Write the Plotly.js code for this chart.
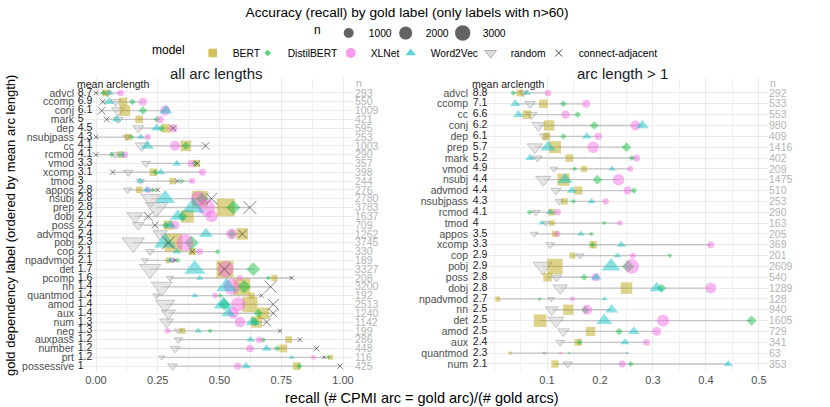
<!DOCTYPE html>
<html><head><meta charset="utf-8">
<script src="https://cdn.plot.ly/plotly-3.0.1.min.js"></script>
<style>html,body{margin:0;padding:0;background:#fff}#chart{width:830px;height:407px}</style>
</head><body><div id="chart"></div>
<script>
// ---------- data: all arc lengths ----------
const labelsAll = ['advcl','ccomp','conj','mark','dep','nsubjpass','cc','rcmod','vmod','xcomp','tmod','appos','nsubj','prep','dobj','poss','advmod','pobj','cop','npadvmod','det','pcomp','nn','quantmod','amod','aux','num','neg','auxpass','number','prt','possessive'];
const arclenAll = ['8.7','6.9','6.1','5','4.5','4.3','4.1','4.1','3.3','3.1','3','2.8','2.8','2.8','2.4','2.4','2.4','2.3','2.1','2.1','1.7','1.6','1.4','1.4','1.4','1.4','1.3','1.3','1.2','1.2','1.2','1'];
const nAll = [293,550,1009,421,595,253,1003,290,357,398,244,276,2780,3783,1637,709,1262,3745,330,189,3327,208,3200,192,2513,1240,1142,199,286,448,116,425];
const bertAll = [0.04,0.11,0.117,0.175,0.283,0.13,0.364,0.10,0.407,0.232,0.31,0.175,0.42,0.525,0.37,0.293,0.592,0.313,0.39,0.293,0.522,0.722,0.59,0.63,0.623,0.677,0.65,0.35,0.78,0.758,0.95,0.812];
const distilAll = [0.03,0.147,0.19,0.245,0.265,0.145,0.364,0.063,0.40,0.24,0.347,0.23,0.43,0.556,0.35,0.283,0.55,0.387,0.493,0.333,0.637,0.698,0.60,0.502,0.52,0.657,0.644,0.462,0.677,0.734,0.94,0.823];
const xlnetAll = [0.10,0.19,0.28,0.26,0.313,0.21,0.32,0.117,0.385,0.432,0.389,0.212,0.414,0.448,0.468,0.32,0.549,0.36,0.42,0.31,0.525,0.583,0.55,0.482,0.576,0.556,0.583,0.289,0.661,0.623,0.88,0.574];
const w2vAll = [0.054,0.053,0.283,0.084,0.245,0.182,0.208,0.104,0.327,0.262,0.178,0.205,0.28,0.394,0.332,0.30,0.445,0.28,0.327,0.30,0.40,0.42,0.529,0.40,0.515,0.536,0.634,0.414,0.626,0.691,0.792,0.607];
const randomAll = [0.045,0.08,0.09,0.09,0.171,0.125,0.185,0.077,0.202,0.131,0.18,0.128,0.222,0.245,0.158,0.171,0.26,0.151,0.219,0.198,0.219,0.30,0.266,0.245,0.28,0.293,0.286,0.333,0.333,0.32,0.266,0.31];
const adjAll = [0.0,0.027,0.023,0.043,0.313,0.0,0.444,0.0,0.41,0.067,0.33,0.25,0.468,0.623,0.212,0.239,0.593,0.293,0.39,0.32,0.52,0.792,0.707,0.67,0.718,0.718,0.691,0.745,0.826,0.893,0.923,0.988];

// ---------- data: arc length > 1 ----------
const labelsGt1 = ['advcl','ccomp','cc','conj','dep','prep','mark','vmod','nsubj','advmod','nsubjpass','rcmod','tmod','appos','xcomp','cop','pobj','poss','dobj','npadvmod','nn','det','amod','aux','quantmod','num'];
const arclenGt1 = ['8.8','7.1','6.6','6.2','6.1','5.7','5.2','4.9','4.4','4.4','4.3','4.1','4','3.5','3.3','2.9','2.9','2.8','2.8','2.7','2.5','2.5','2.5','2.4','2.3','2.1'];
const nGt1 = [292,533,553,980,409,1416,402,209,1475,510,253,290,163,205,369,201,2609,540,1289,128,940,1605,729,341,63,353];
const bertGt1 = [0.049,0.093,0.062,0.104,0.099,0.115,0.142,0.17,0.131,0.159,0.133,0.109,0.109,0.115,0.187,0.148,0.115,0.101,0.25,0.007,0.14,0.087,0.182,0.159,0.03,0.115];
const distilGt1 = [0.036,0.131,0.158,0.189,0.131,0.25,0.26,0.152,0.195,0.264,0.15,0.067,0.208,0.184,0.186,0.332,0.253,0.17,0.316,0.086,0.172,0.486,0.236,0.161,0.142,0.258];
const xlnetGt1 = [0.102,0.174,0.135,0.267,0.197,0.187,0.269,0.257,0.235,0.252,0.211,0.12,0.238,0.12,0.409,0.262,0.26,0.192,0.409,0.148,0.176,0.319,0.307,0.288,0.126,0.242];
const w2vGt1 = [0.062,0.04,0.046,0.28,0.175,0.102,0.068,0.223,0.134,0.147,0.184,0.106,0.09,0.164,0.24,0.233,0.221,0.193,0.307,0.209,0.222,0.208,0.264,0.247,0.252,0.442];
const randomGt1 = [0.055,0.068,0.071,0.084,0.095,0.077,0.082,0.113,0.093,0.117,0.123,0.079,0.098,0.076,0.106,0.162,0.092,0.118,0.125,0.108,0.109,0.117,0.131,0.125,0.095,0.139];

// ---------- tick labels / legend ----------
const xTickValsAll = [0,0.25,0.5,0.75,1];
const xTickTextAll = ['0.00','0.25','0.50','0.75','1.00'];
const xTickValsGt1 = [0.1,0.2,0.3,0.4,0.5];
const xTickTextGt1 = ['0.1','0.2','0.3','0.4','0.5'];
const nLegendVals = [1000,2000,3000];
const nLegendWidths = [12,12,32];
const models = ['BERT','DistilBERT','XLNet','Word2Vec','random','connect-adjacent'];

// ---------- styles ----------
const FONT = 'Liberation Sans, Arial, Helvetica, sans-serif';
const style = {
  'BERT':{symbol:'square', color:'rgba(183,159,0,0.65)', f:1.05, leg:8.5, lw0:10},
  'DistilBERT':{symbol:'diamond', color:'rgba(0,186,56,0.65)', f:0.65, leg:5, lw0:38},
  'XLNet':{symbol:'circle', color:'rgba(245,100,227,0.65)', f:1.0, leg:10, lw0:15},
  'Word2Vec':{symbol:'triangle-up', color:'rgba(0,191,196,0.65)', f:1.15, leg:9, lw0:35},
  'random':{symbol:'triangle-down', color:'rgba(195,195,195,0.55)', line:'rgba(150,150,150,0.75)', lw:1, f:1.15, leg:10, lw0:23},
  'connect-adjacent':{symbol:'x-thin-open', color:'rgba(40,40,40,0.85)', line:'rgba(40,40,40,0.85)', lw:1, f:0.75, leg:7, lw0:85}
};
const baseSize = n => 3 + 14*Math.sqrt(Math.max(0,(n-63))/3720);

function panelTraces(xa, ya, yn, rowsN, nArr, seriesMap, arclen, arcX) {
  const rows = Array.from({length:rowsN}, (_, i) => i);
  const traces = [];
  const sx = [], sy = [];
  rows.forEach(i => {
    const vals = Object.values(seriesMap).map(a => a[i]);
    sx.push(Math.min(...vals), Math.max(...vals), null);
    sy.push(i, i, null);
  });
  traces.push({type:'scatter', mode:'lines', x:sx, y:sy, xaxis:xa, yaxis:ya,
    line:{color:'#C4C4C4', width:1.3}, hoverinfo:'skip', showlegend:false});
  const order = ['random','BERT','DistilBERT','XLNet','Word2Vec','connect-adjacent'];
  order.forEach(m => {
    if (!seriesMap[m]) return;
    const s = style[m];
    traces.push({type:'scatter', mode:'markers', name:m, x:seriesMap[m], y:rows, xaxis:xa, yaxis:ya,
      marker:{symbol:s.symbol, color:s.color, size:nArr.map(n => baseSize(n)*s.f),
        line:{color:s.line || 'rgba(0,0,0,0)', width:s.lw || 0}},
      showlegend:false, hovertemplate:m+': %{x}<extra></extra>'});
  });
  traces.push({type:'scatter', mode:'text', x:rows.map(() => arcX), y:rows, text:arclen, xaxis:xa, yaxis:ya,
    textposition:'middle right', textfont:{family:FONT, size:10.5, color:'#1A1A1A'}, cliponaxis:false,
    hoverinfo:'skip', showlegend:false});
  traces.push({type:'scatter', mode:'markers', x:[null], y:[null], xaxis:xa, yaxis:yn, showlegend:false, hoverinfo:'skip'});
  return traces;
}

const traces = [
  ...panelTraces('x','y','y3',labelsAll.length,nAll,
    {'BERT':bertAll,'DistilBERT':distilAll,'XLNet':xlnetAll,'Word2Vec':w2vAll,'random':randomAll,'connect-adjacent':adjAll},
    arclenAll,-0.074),
  ...panelTraces('x2','y2','y4',labelsGt1.length,nGt1,
    {'BERT':bertGt1,'DistilBERT':distilGt1,'XLNet':xlnetGt1,'Word2Vec':w2vGt1,'random':randomGt1},
    arclenGt1,-0.040)
];
models.forEach(m => {
  const s = style[m];
  traces.push({type:'scatter', mode:'markers', name:m, x:[null], y:[null], legend:'legend', legendwidth:s.lw0,
    marker:{symbol:s.symbol, color:s.color, size:s.leg, line:{color:s.line || 'rgba(0,0,0,0)', width:s.lw || 0}},
    showlegend:true});
});
nLegendVals.forEach((v, i) => {
  traces.push({type:'scatter', mode:'markers', name:String(v), x:[null], y:[null], legend:'legend2', legendwidth:nLegendWidths[i],
    marker:{symbol:'circle', color:'rgba(60,60,60,0.8)', size:baseSize(v)}, showlegend:true});
});

const W = 830, H = 407;
const px = v => v/W, py = v => 1 - v/H;
const yDom = [py(372), py(78)];
const gridC = '#EBEBEB';
const rangeAll = [31.67,-1.70], rangeGt1 = [25.74,-1.38];
const yAxisBase = (labels, range) => ({
  domain:yDom, range:range, tickmode:'array', tickvals:labels.map((_, i) => i), ticktext:labels,
  showgrid:true, gridcolor:gridC, gridwidth:1, zeroline:false, showline:false, ticks:'',
  ticklabelstandoff:2, tickfont:{family:FONT, size:10.5, color:'#4D4D4D'}, fixedrange:true
});
const nAxis = (nArr, range, over, anchor) => ({
  overlaying:over, anchor:anchor, side:'right', range:range, tickmode:'array',
  tickvals:nArr.map((_, i) => i), ticktext:nArr.map(String), showgrid:false, zeroline:false, showline:false,
  ticks:'', tickfont:{family:FONT, size:10.5, color:'#B3B3B3'}, fixedrange:true
});

const layout = {
  width:W, height:H, margin:{l:0,r:0,t:0,b:0}, paper_bgcolor:'#fff', plot_bgcolor:'#fff',
  font:{family:FONT, color:'#000'},
  title:{text:'Accuracy (recall) by gold label (only labels with n>60)', x:px(407), xanchor:'center',
    y:py(12), yanchor:'middle', font:{family:FONT, size:13.7, color:'#000'}},
  xaxis:{domain:[px(77),px(354)], range:[-0.0769,1.0445], anchor:'y', tickmode:'array',
    tickvals:xTickValsAll, ticktext:xTickTextAll, showgrid:true, gridcolor:gridC, gridwidth:1,
    minor:{tick0:0, dtick:0.125, showgrid:true, gridcolor:'#F1F1F1', gridwidth:0.7, ticks:''},
    zeroline:false, showline:false, ticks:'', tickfont:{family:FONT, size:11, color:'#4D4D4D'}, fixedrange:true},
  xaxis2:{domain:[px(471),px(768)], range:[-0.0434,0.517], anchor:'y2', tickmode:'array',
    tickvals:xTickValsGt1, ticktext:xTickTextGt1, showgrid:true, gridcolor:gridC, gridwidth:1,
    minor:{tick0:0, dtick:0.05, showgrid:true, gridcolor:'#F1F1F1', gridwidth:0.7, ticks:''},
    zeroline:false, showline:false, ticks:'', tickfont:{family:FONT, size:11, color:'#4D4D4D'}, fixedrange:true},
  yaxis:Object.assign(yAxisBase(labelsAll,rangeAll), {anchor:'x'}),
  yaxis2:Object.assign(yAxisBase(labelsGt1,rangeGt1), {anchor:'x2'}),
  yaxis3:nAxis(nAll, rangeAll, 'y', 'x'),
  yaxis4:nAxis(nGt1, rangeGt1, 'y2', 'x2'),
  legend:{orientation:'h', x:px(150), xanchor:'left', y:py(53), yanchor:'middle',
    title:{text:'model', side:'left', font:{family:FONT, size:12, color:'#000'}},
    font:{family:FONT, size:10.3, color:'#000'}, itemsizing:'trace', itemwidth:30, bgcolor:'rgba(0,0,0,0)',
    itemclick:false, itemdoubleclick:false},
  legend2:{orientation:'h', x:px(312), xanchor:'left', y:py(33), yanchor:'middle',
    title:{text:'n', side:'left', font:{family:FONT, size:12, color:'#000'}},
    font:{family:FONT, size:10.3, color:'#000'}, itemsizing:'trace', itemwidth:30, bgcolor:'rgba(0,0,0,0)',
    itemclick:false, itemdoubleclick:false},
  annotations:[
    {text:'all arc lengths', xref:'paper', yref:'paper', x:px(216), y:py(73), xanchor:'center', yanchor:'middle',
      showarrow:false, font:{family:FONT, size:15, color:'#1A1A1A'}},
    {text:'arc length > 1', xref:'paper', yref:'paper', x:px(622), y:py(73), xanchor:'center', yanchor:'middle',
      showarrow:false, font:{family:FONT, size:15, color:'#1A1A1A'}},
    {text:'mean arclength', xref:'paper', yref:'paper', x:px(75), y:py(84), xanchor:'left', yanchor:'middle',
      showarrow:false, font:{family:FONT, size:10.5, color:'#1A1A1A'}},
    {text:'mean arclength', xref:'paper', yref:'paper', x:px(470), y:py(84), xanchor:'left', yanchor:'middle',
      showarrow:false, font:{family:FONT, size:10.5, color:'#1A1A1A'}},
    {text:'n', xref:'paper', yref:'paper', x:px(354), y:py(83), xanchor:'left', yanchor:'middle',
      showarrow:false, font:{family:FONT, size:10.5, color:'#B3B3B3'}},
    {text:'n', xref:'paper', yref:'paper', x:px(768), y:py(83), xanchor:'left', yanchor:'middle',
      showarrow:false, font:{family:FONT, size:10.5, color:'#B3B3B3'}},
    {text:'recall (# CPMI arc = gold arc)/(# gold arcs)', xref:'paper', yref:'paper', x:px(422), y:py(398),
      xanchor:'center', yanchor:'middle', showarrow:false, font:{family:FONT, size:14.5, color:'#000'}},
    {text:'gold dependency label (ordered by mean arc length)', xref:'paper', yref:'paper', x:px(10), y:py(226),
      xanchor:'center', yanchor:'middle', textangle:-90, showarrow:false, font:{family:FONT, size:13, color:'#000'}}
  ]
};

Plotly.newPlot('chart', traces, layout, {displayModeBar:false, responsive:false});
</script>
</body></html>
